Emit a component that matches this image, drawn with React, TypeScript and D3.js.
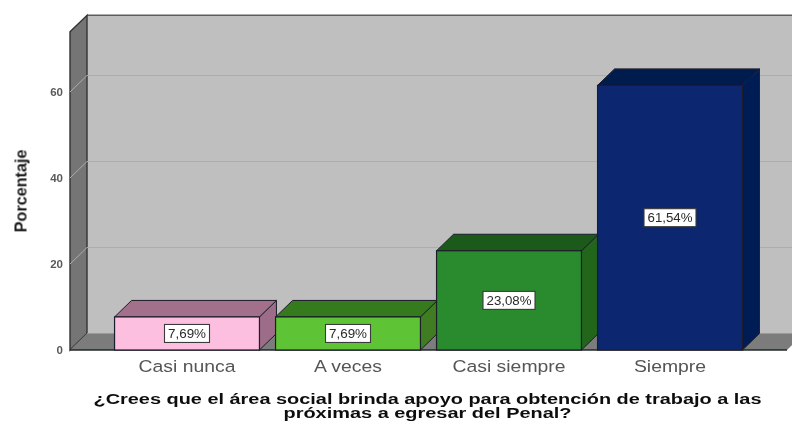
import React from "react";
import * as d3 from "d3";

const categories = ["Casi nunca", "A veces", "Casi siempre", "Siempre"];
const values = [7.69, 7.69, 23.08, 61.54];
const valueLabels = ["7,69%", "7,69%", "23,08%", "61,54%"];
const yTicks = [0, 20, 40, 60];
const frontColors = ["#fdbfdf", "#5fc435", "#2b8a2e", "#0a2870"];
const topColors = ["#a2708a", "#357a1f", "#1f5a1c", "#051a4e"];
const sideColors = ["#9c6c88", "#3f7d22", "#22661f", "#061d55"];
const titleLines = [
  "¿Crees que el área social brinda apoyo para obtención de trabajo a las",
  "próximas a egresar del Penal?",
];

const W = 792;
const H = 421;
const font = "'Liberation Sans', Arial, sans-serif";
const DX = 17;
const DY = 16.5;
const y = d3.scaleLinear().domain([0, 60]).range([350, 92]);
const x = d3.scaleBand<string>().domain(categories).range([106.5, 750.5]).paddingInner(0.1).paddingOuter(0.05);
const axisTop = y(74);
const xLeft = 70;
const floorRight = 787;
const dark = "#22262a";

const poly = (pts: [number, number][]) => d3.line()(pts) + "Z";

export default function App() {
  const y0 = y(0);
  return (
    <svg width={W} height={H} viewBox={`0 0 ${W} ${H}`} style={{ position: "absolute", left: 0, top: 0, background: "#fff" }}>
      <defs>
        <filter id="soft" x="-5%" y="-5%" width="110%" height="110%">
          <feGaussianBlur stdDeviation="0.35" />
        </filter>
      </defs>
      <g filter="url(#soft)">
        {/* back wall */}
        <rect x={xLeft + DX} y={axisTop - DY} width={W - xLeft - DX + 2} height={y0 - axisTop} fill="#bfbfbf" />
        <line x1={xLeft + DX} x2={W + 2} y1={axisTop - DY} y2={axisTop - DY} stroke="#5c5c5c" strokeWidth={1.5} />
        {/* left wall */}
        <path d={poly([[xLeft, axisTop], [xLeft + DX, axisTop - DY], [xLeft + DX, y0 - DY], [xLeft, y0]])} fill="#747474" stroke="#333" strokeWidth={1.4} />
        {/* floor */}
        <path d={poly([[xLeft, y0], [xLeft + DX, y0 - DY], [floorRight + DX, y0 - DY], [floorRight, y0]])} fill="#7c7c7c" />
        <line x1={xLeft + DX} x2={W + 2} y1={y0 - DY} y2={y0 - DY} stroke="#9a9a9a" strokeWidth={1} />
        <line x1={xLeft} x2={floorRight} y1={y0} y2={y0} stroke={dark} strokeWidth={1.6} />
        {/* gridlines */}
        {yTicks.filter((t) => t > 0).map((t) => (
          <path key={t} d={d3.line()([[xLeft, y(t)], [xLeft + DX, y(t) - DY], [W + 2, y(t) - DY]]) as string} stroke="#adadad" strokeWidth={1} fill="none" />
        ))}
        {/* y ticks */}
        {yTicks.map((t) => (
          <text key={t} x={63} y={y(t) + 4} textAnchor="end" fontFamily={font} fontSize={11.5} fontWeight={700} fill="#5a5a5a">{t}</text>
        ))}
        <text transform="translate(26,191) rotate(-90) scale(1.08,1.1)" textAnchor="middle" fontFamily={font} fontSize={15} fontWeight={700} fill="#1a1a1a">Porcentaje</text>
        {/* bars */}
        {categories.map((c, i) => {
          const bx = x(c) as number;
          const bw = x.bandwidth();
          const by = y(values[i]);
          const cx = bx + bw / 2;
          const cy = (by + y0) / 2;
          const stroke = "#1c1c2a";
          const text = valueLabels[i];
          const short = text.length === 5;
          const boxW = short ? 45 : 52;
          return (
            <g key={c}>
              <path d={poly([[bx + bw, by], [bx + bw + DX, by - DY], [bx + bw + DX, y0 - DY], [bx + bw, y0]])} fill={sideColors[i]} stroke={stroke} strokeWidth={1} />
              <path d={poly([[bx, by], [bx + DX, by - DY], [bx + bw + DX, by - DY], [bx + bw, by]])} fill={topColors[i]} stroke={stroke} strokeWidth={1} />
              <rect x={bx} y={by} width={bw} height={y0 - by} fill={frontColors[i]} stroke={stroke} strokeWidth={1.2} />
              <rect x={cx - boxW / 2} y={cy - 9} width={boxW} height={18} fill="#fff" stroke="#3a3a3a" strokeWidth={1.1} />
              <text x={cx} y={cy + 4.5} textAnchor="middle" textLength={short ? 38 : 45} lengthAdjust="spacingAndGlyphs" fontFamily={font} fontSize={12.5} fill="#2a2a2a">{text}</text>
              <text transform={`translate(${cx},372) scale(1.14,1)`} textAnchor="middle" fontFamily={font} fontSize={17} fill="#555">{c}</text>
            </g>
          );
        })}
        {/* title */}
        <text x={427.5} y={403.5} textAnchor="middle" textLength={668} lengthAdjust="spacingAndGlyphs" fontFamily={font} fontSize={14.5} fontWeight={700} fill="#111">{titleLines[0]}</text>
        <text x={427.5} y={417.5} textAnchor="middle" textLength={288} lengthAdjust="spacingAndGlyphs" fontFamily={font} fontSize={14.5} fontWeight={700} fill="#111">{titleLines[1]}</text>
      </g>
    </svg>
  );
}
